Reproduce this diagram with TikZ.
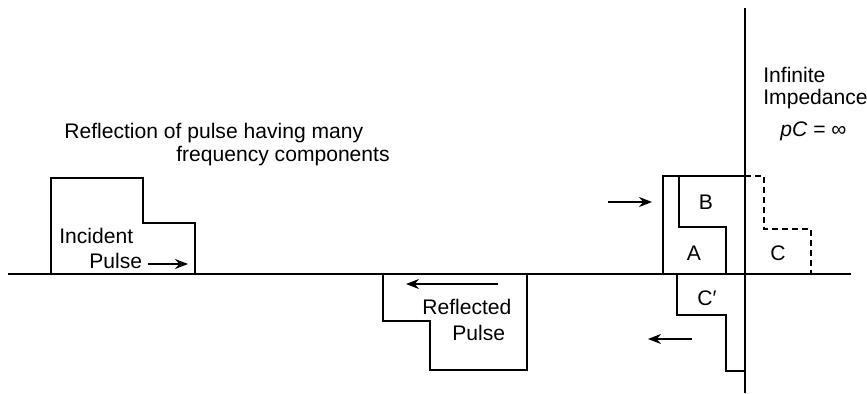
\documentclass[tikz,border=0pt]{standalone}
\usepackage{fontspec}
\setmainfont{Liberation Sans}
\usetikzlibrary{arrows.meta,positioning}

\begin{document}
\begin{tikzpicture}[x=0.02cm,y=-0.02cm,font=\fontsize{12}{13.3}\selectfont,
  pulse/.style={line width=0.8pt},
  wall/.style={line width=0.8pt},
  txt/.style={inner sep=0pt,anchor=base west,align=left},
  lbl/.style={inner sep=0pt},
  arr/.style={-{Stealth[length=2.6mm,width=2mm]},line width=0.8pt}]
\useasboundingbox (0,0) rectangle (867,393);
% line and wall
\coordinate (lineL) at (8,274);
\coordinate (lineR) at (851,274);
\coordinate (wallT) at (745,8);
\coordinate (wallB) at (745,393);
\draw[wall] (lineL) -- (lineR);
\draw[wall] (wallT) -- (wallB);
% title (base = last line)
\node[txt] (title) at (64,161.7)
  {Reflection of pulse having many\\\hspace*{2.24cm}frequency components};
% incident pulse
\draw[pulse] (51,274) |- (143,178) |- (195,223) -- (195,274);
\node[txt] (inc) at (59,268.3) {Incident\\[1pt]\hspace*{0.6cm}Pulse};
\coordinate (incA) at (148,264);
\coordinate (incB) at (188,264);
\draw[arr] (incA) -- (incB);
% reflected pulse
\draw[pulse] (383,274) |- (430,321) |- (527,370) -- (527,274);
\node[txt] (refl) at (422,340) {Reflected\\[1pt]\hspace*{0.6cm}Pulse};
\coordinate (reflA) at (498,284);
\coordinate (reflB) at (406,284);
\draw[arr] (reflA) -- (reflB);
% pulse at the wall
\draw[pulse] (663,274) |- (745,176);
\draw[pulse] (679,176) |- (726,227) -- (726,274);
\draw[pulse,dash pattern=on 1.2mm off 0.8mm] (745,176) -| (764,229) -| (811,274);
\draw[pulse] (677,274) |- (726,315) |- (745,371);
\node[lbl] (B) at (706,202) {B};
\node[lbl] (A) at (694,253) {A};
\node[lbl] (C) at (778,253) {C};
\node[lbl] (Cp) at (707,298) {C′};
\coordinate (inA) at (608,202);
\coordinate (inB) at (652,202);
\draw[arr] (inA) -- (inB);
\coordinate (outA) at (692,339);
\coordinate (outB) at (648,339);
\draw[arr] (outA) -- (outB);
% wall text
\node[txt] (imp) at (763,136.7)
  {Infinite\\[-0.8pt]Impedance\\[5pt]\hspace*{0.34cm}\textit{pC} = ∞};
\end{tikzpicture}
\end{document}
